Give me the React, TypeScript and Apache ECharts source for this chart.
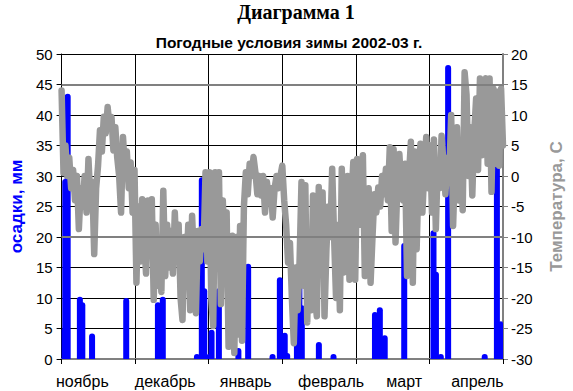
import React, { useEffect, useRef } from "react";
import * as echarts from "echarts";

const months = ["ноябрь", "декабрь", "январь", "февраль", "март", "апрель"];
// day index (0 = 1 Nov) under which each month name is printed
const monthLabelDays = [8, 42, 75, 110, 140, 170];
const precipTicks = [0, 50, 5];
const tempTicks = [-30, 20, 5];
const seasonDays = 181;

// precipitation: day of season (0 = 1 Nov), mm
const rainDays = [0, 1, 2, 7, 8, 12, 26, 39, 41, 55, 57, 58, 60, 61, 64, 72, 76, 86, 89, 91, 92, 96, 97, 98, 105, 111, 128, 130, 132, 140, 152, 153, 155, 158, 173, 178, 180];
const rainMm = [5, 29.5, 43.5, 10.2, 9.3, 4.2, 10, 9.3, 10.2, 0.8, 29.8, 11.6, 0.8, 4.8, 11.6, 1.8, 15.6, 0.8, 13.4, 4.3, 1.0, 4, 14.2, 8.8, 2.8, 0.8, 7.7, 8.5, 3.9, 19, 21.1, 14.3, 0.8, 48.2, 0.8, 32, 6.2];

// temperature readings, evenly spaced through the season
const tempC = [
  14, 0.5, 5, 0, 3, -2, 1, -4, 0, -8.7,
  -2, -5, 0, -6, 2.8, -4, -1, -12.8, -2, 1.7,
  7.5, 4, 9.7, 7, 11.3, 8, 9.7, 4.2, 8, 3,
  0, -6, 6.4, 1, 4, -2, 2.2, -6, 1, -17.5,
  -5, -14, -3.8, -10, -16, -4, -11, -3.8, -20.3, -8,
  -18, -11, -19, -2.4, -16.4, -8, -15, -9, -16, -6,
  -14, -8, -20, -23.6, -10, -16, -8, -22, -6.5, -14,
  -22.5, -9, -14, -8.7, -12, 0.6, -14, 0.6, -20, -24.6,
  0.6, -12, 0.6, -21, -4, -12, -6, -28, -15, -9.8,
  -29, -10, -26, -8.2, -27, -5, 0.6, -3, 2, 0,
  3.1, 0.6, -3, 0, -3.2, 0, -6, -1, -4, -2,
  -6.8, -2, 0, -2, 0, 1.7, -4, -8, -14.2, -11,
  -20, -27.4, -15, -22, -14, -1, -18, -1.5, -24, -10,
  -22, -3.2, -20, -23, -1.8, -16, -2.7, -23, -12, -5,
  -10, 1.2, -10, -20, -8, -22, 1.2, -15.8, -6, 0,
  -17, -4, 2.3, -17, 2.8, -8, 1, 3.4, -16.4, -5,
  -2, -17.5, -10, -3, -6, -1.9, -5, 0, -3, 1.2,
  -4, 4.7, -9, 4.4, -10.9, -1, 3.6, -2, -4, 2,
  -16.4, 0, 5.6, -17.5, 4, -12, 0, 5.3, -6, 1,
  6.4, -2, 5, -6, 6, -8.7, 2, -2, 6.6, 2,
  -3, 3, 0, 10, -8.2, 2, 8, -4, 4, -5.6,
  17, 13.3, 0, 8, -3.2, 7, 12.7, 1, 16, 3.4,
  15, 16, 2, 16, -2.6, 14.3, 2, 13.8, 1.7, 14.3,
  5,
];

export default function App() {
  const ref = useRef<HTMLDivElement>(null);
  useEffect(() => {
    if (!ref.current) return;
    const chart = echarts.init(ref.current, undefined, { renderer: "svg" });
    const sans = "Liberation Sans, Arial, sans-serif";
    const dayLabels: string[] = [];
    for (let d = 0; d < seasonDays; d++) dayLabels.push(String(d));
    const monthAt: Record<number, string> = {};
    monthLabelDays.forEach((d, i) => (monthAt[d] = months[i]));
    chart.setOption({
      animation: false,
      backgroundColor: "#fff",
      graphic: [
        {
          type: "text",
          x: 296,
          y: 2,
          style: {
            text: "Диаграмма 1",
            font: "bold 20px 'Liberation Serif', 'Times New Roman', serif",
            fill: "#000",
            textAlign: "center",
          },
        },
        {
          type: "text",
          x: 289,
          y: 34,
          style: {
            text: "Погодные условия зимы 2002-03 г.",
            font: "bold 15.5px 'Liberation Sans', Arial, sans-serif",
            fill: "#000",
            textAlign: "center",
          },
        },
      ],
      grid: { left: 55, right: 57, top: 54, bottom: 32, containLabel: false },
      xAxis: [
        {
          type: "category",
          data: months,
          boundaryGap: true,
          position: "bottom",
          axisLine: { show: true, lineStyle: { color: "#808080", width: 2 } },
          axisTick: { show: true, length: 5, interval: 0, lineStyle: { color: "#000" } },
          axisLabel: { show: false },
          splitLine: { show: true, interval: 0, lineStyle: { color: "#000", width: 1 } },
        },
        {
          type: "category",
          data: dayLabels,
          boundaryGap: true,
          position: "bottom",
          offset: 0,
          axisLine: { show: false },
          axisTick: { show: false },
          splitLine: { show: false },
          axisLabel: {
            interval: (i: number) => monthAt[i] !== undefined,
            formatter: (_v: string, i: number) => monthAt[i] ?? "",
            color: "#000",
            fontSize: 16,
            fontFamily: sans,
            margin: 14,
          },
        },
        { type: "value", min: 0, max: tempC.length - 1, show: false },
      ],
      yAxis: [
        {
          type: "value",
          min: precipTicks[0],
          max: precipTicks[1],
          interval: precipTicks[2],
          position: "left",
          name: "осадки, мм",
          nameLocation: "middle",
          nameRotate: 90,
          nameGap: 35,
          nameTextStyle: { color: "#0000ff", fontWeight: "bold", fontSize: 17, fontFamily: sans },
          axisLine: { show: true, lineStyle: { color: "#000", width: 1 } },
          axisTick: { show: true, length: 5, lineStyle: { color: "#000" } },
          axisLabel: { color: "#000", fontSize: 15, fontFamily: sans, margin: 9 },
          splitLine: { show: true, lineStyle: { color: "#000", width: 1 } },
        },
        {
          type: "value",
          min: tempTicks[0],
          max: tempTicks[1],
          interval: tempTicks[2],
          position: "right",
          name: "Температура, С",
          nameLocation: "middle",
          nameRotate: 90,
          nameGap: 45,
          nameTextStyle: { color: "#999999", fontWeight: "bold", fontSize: 17, fontFamily: sans },
          axisLine: { show: true, lineStyle: { color: "#808080", width: 2 } },
          axisTick: { show: true, length: 5, lineStyle: { color: "#808080" } },
          axisLabel: { color: "#000", fontSize: 15, fontFamily: sans, margin: 8 },
          splitLine: { show: false },
        },
      ],
      series: [
        {
          type: "bar",
          xAxisIndex: 1,
          yAxisIndex: 0,
          barWidth: 6,
          itemStyle: { color: "#0000ff", borderRadius: [3, 3, 0, 0] },
          data: rainDays.map((d, i) => [d, rainMm[i]]),
          markLine: {
            silent: true,
            symbol: "none",
            label: { show: false },
            lineStyle: { color: "#808080", width: 2, type: "solid" },
            data: [{ yAxis: 45 }, { yAxis: 20 }],
          },
          z: 2,
        },
        {
          type: "line",
          xAxisIndex: 2,
          yAxisIndex: 1,
          showSymbol: false,
          symbol: "none",
          lineStyle: { color: "#999999", width: 6.5, cap: "round", join: "round" },
          data: tempC.map((v, i) => [i, v]),
          z: 3,
        },
      ],
    });
    return () => chart.dispose();
  }, []);
  return <div ref={ref} style={{ width: 573, height: 391, position: "absolute", left: 0, top: 0 }} />;
}
